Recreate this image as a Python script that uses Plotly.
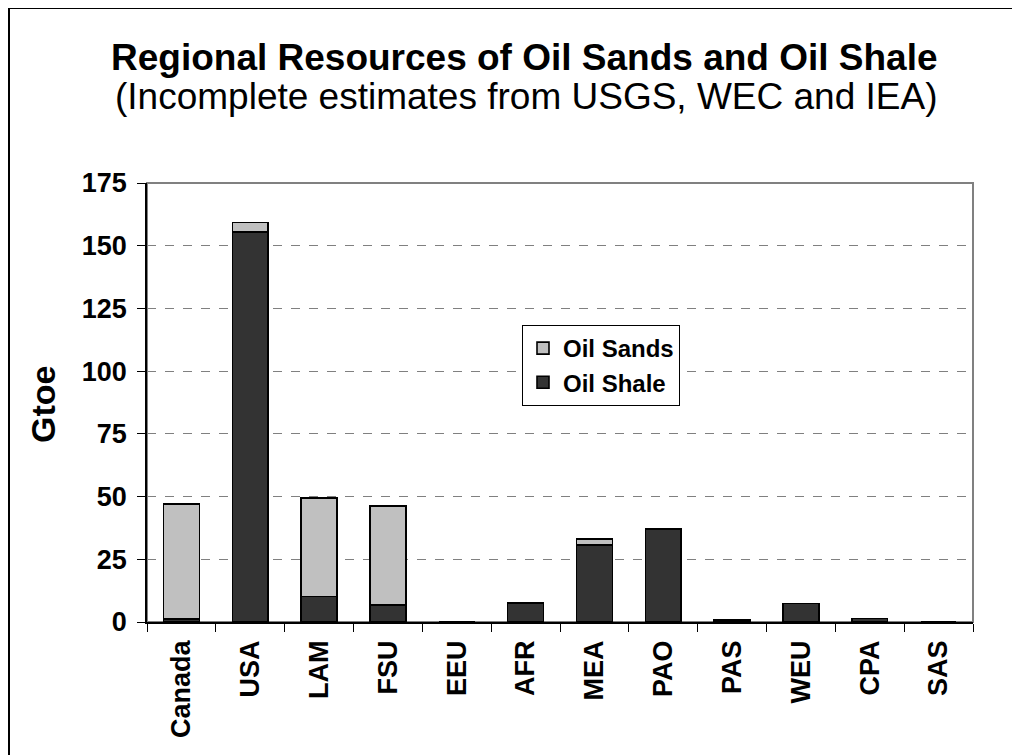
import plotly.graph_objects as go

regions = ['Canada', 'USA', 'LAM', 'FSU', 'EEU', 'AFR', 'MEA', 'PAO', 'PAS', 'WEU', 'CPA', 'SAS']
oil_shale = [1.2, 155.4, 10.1, 6.8, 0.0, 7.4, 30.7, 37.1, 0.8, 7.3, 1.4, 0.0]
oil_sands = [45.8, 3.8, 39.3, 39.4, 0.0, 0.4, 2.5, 0.0, 0.0, 0.0, 0.0, 0.0]
y_ticks = [0, 25, 50, 75, 100, 125, 150, 175]

FONT = 'Arial, Liberation Sans, sans-serif'
# page body adds an 8px offset, so work in screen coords and shift back
OFF = 8
W, H = 1020 - OFF, 755 - OFF
L, R, T, B = 147 - OFF, 47, 183 - OFF, 133
pw, ph = W - L - R, H - T - B


def px(x):
    return (x - OFF - L) / pw


def py(y):
    return (H - B - (y - OFF)) / ph


fig = go.Figure()
fig.add_trace(go.Bar(x=regions, y=oil_shale, name='Oil Shale',
                     marker=dict(color='#333333', line=dict(color='black', width=1.6))))
fig.add_trace(go.Bar(x=regions, y=oil_sands, name='Oil Sands',
                     marker=dict(color='#C0C0C0', line=dict(color='black', width=1.6))))

fig.update_layout(
    width=W, height=H,
    margin=dict(l=L, r=R, t=T, b=B),
    barmode='stack', bargap=0.48,
    plot_bgcolor='white', paper_bgcolor='white',
    font=dict(family=FONT, color='black'),
    showlegend=True,
    legend=dict(x=px(522), y=py(325), xanchor='left', yanchor='top',
                traceorder='reversed', bgcolor='white',
                bordercolor='black', borderwidth=1,
                font=dict(size=24, family=FONT, weight='bold')),
    xaxis=dict(showline=True, linecolor='black', linewidth=1.5,
               ticks='outside', tickson='boundaries', ticklen=8, tickcolor='black',
               tickangle=-90, tickfont=dict(size=27, weight='bold'),
               ticklabelstandoff=6, showgrid=False),
    yaxis=dict(range=[0, 175], tickvals=y_ticks, showline=True, linecolor='black',
               linewidth=1.5, ticks='outside', ticklen=8, tickcolor='black',
               tickfont=dict(size=27, weight='bold'), ticklabelstandoff=5,
               showgrid=True, gridcolor='#808080', griddash='dash', gridwidth=1,
               zeroline=False),
)

# plot area frame (gray top/right) and outer chart border
fig.add_shape(type='rect', xref='paper', yref='paper', x0=0, x1=1, y0=0, y1=1,
              line=dict(color='#808080', width=2), layer='below')
fig.add_shape(type='rect', xref='paper', yref='paper', x0=px(9), x1=px(1030),
              y0=py(8), y1=py(770), line=dict(color='black', width=2))

fig.add_annotation(text='<b>Regional Resources of Oil Sands and Oil Shale</b>',
                   xref='paper', yref='paper', x=px(524), y=py(58),
                   xanchor='center', yanchor='middle', showarrow=False,
                   font=dict(size=37, family=FONT))
fig.add_annotation(text='(Incomplete estimates from USGS, WEC and IEA)',
                   xref='paper', yref='paper', x=px(526), y=py(97),
                   xanchor='center', yanchor='middle', showarrow=False,
                   font=dict(size=37, family=FONT))
fig.add_annotation(text='<b>Gtoe</b>', xref='paper', yref='paper',
                   x=px(43), y=py(404), xanchor='center', yanchor='middle',
                   textangle=-90, showarrow=False,
                   font=dict(size=34, family=FONT))

fig.write_html('out.html')
